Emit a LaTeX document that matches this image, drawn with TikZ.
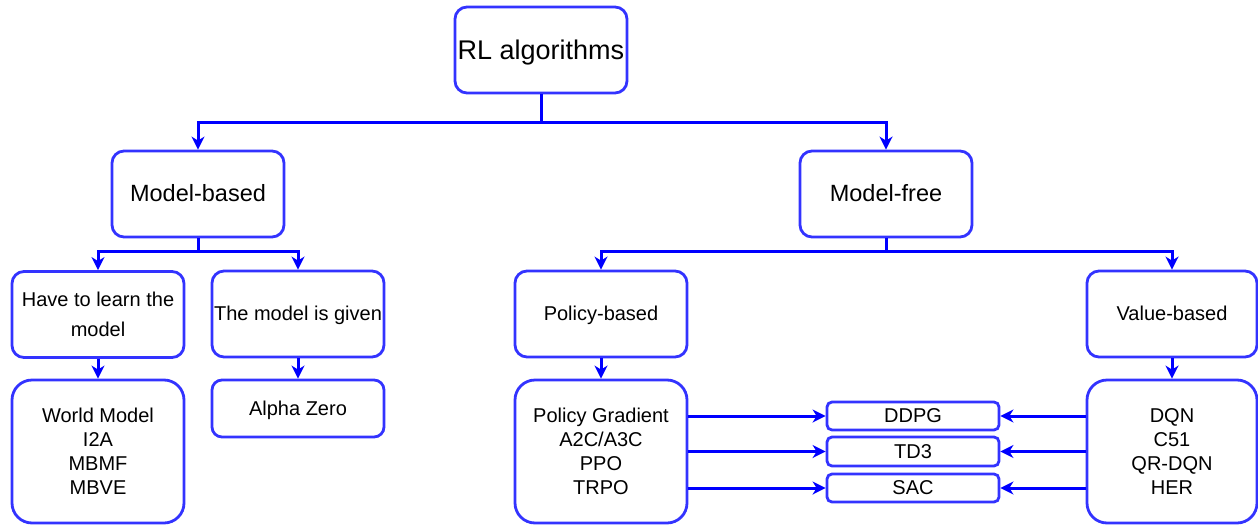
\documentclass[tikz,border=0pt]{standalone}
\usepackage{fontspec}
\setmainfont{Liberation Sans}
\usetikzlibrary{arrows.meta}
\definecolor{boxblue}{RGB}{51,51,255}
\definecolor{arrblue}{RGB}{0,0,255}
\tikzset{
  box/.style={draw=boxblue, line width=2.8pt, fill=white, rounded corners=12pt,
    minimum width=172pt, minimum height=86pt, inner sep=0pt, align=center,
    font=\fontsize{20}{24}\selectfont, text=black},
  single/.style={text height={0.84*#1pt}, text depth={0.16*#1pt}},
  single/.default=20,
  bigbox/.style={box, minimum height=143pt, rounded corners=20pt},
  smallbox/.style={box, single, minimum height=28pt, rounded corners=5pt},
  arr/.style={draw=arrblue, line width=3pt,
    -{Stealth[length=13pt, width=13pt, inset=4pt]}},
}
\begin{document}
\begin{tikzpicture}[x=1pt,y=-1pt]
\useasboundingbox (0,0) rectangle (1258,525);
\node[box, single=27, font=\fontsize{27}{32}\selectfont] (rl) at (541,50) {RL algorithms};
\node[box, single=23.5, font=\fontsize{23.5}{28}\selectfont] (mb) at (198,194) {Model-based};
\node[box, single=23.5, font=\fontsize{23.5}{28}\selectfont] (mf) at (886,194) {Model-free};
\node[box, font=\fontsize{20}{30}\selectfont] (learn) at (98,314.5) {Have to learn the\\model};
\node[box, single] (given) at (298,314) {The model is given};
\node[box, single] (pb) at (601,314) {Policy-based};
\node[box, single, minimum width=170pt] (vb) at (1172,314) {Value-based};
\node[bigbox] (wm) at (98,451.5) {World Model\\I2A\\MBMF\\MBVE};
\node[box, single, minimum height=57pt, rounded corners=10pt] (az) at (298,408.5) {Alpha Zero};
\node[bigbox] (pg) at (601,451.5) {Policy Gradient\\A2C/A3C\\PPO\\TRPO};
\node[bigbox, minimum width=170pt] (dqn) at (1172,451.5) {DQN\\C51\\QR-DQN\\HER};
\node[smallbox] (ddpg) at (913,416) {DDPG};
\node[smallbox, minimum height=29pt] (td3) at (913,451.5) {TD3};
\node[smallbox] (sac) at (913,488) {SAC};

\draw[arr] (rl.south) -- ++(0,28) -| (mb.north);
\draw[arr] (rl.south) -- ++(0,28) -| (mf.north);
\draw[arr] (mb.south) -- ++(0,13) -| (learn.north);
\draw[arr] (mb.south) -- ++(0,13) -| (given.north);
\draw[arr] (mf.south) -- ++(0,13) -| (pb.north);
\draw[arr] (mf.south) -- ++(0,13) -| (vb.north);
\draw[arr] (learn) -- (wm);
\draw[arr] (given) -- (az);
\draw[arr] (pb) -- (pg);
\draw[arr] (vb) -- (dqn);
\draw[arr] (pg.east |- ddpg.west) -- (ddpg.west);
\draw[arr] (pg.east |- td3.west) -- (td3.west);
\draw[arr] (pg.east |- sac.west) -- (sac.west);
\draw[arr] (dqn.west |- ddpg.east) -- (ddpg.east);
\draw[arr] (dqn.west |- td3.east) -- (td3.east);
\draw[arr] (dqn.west |- sac.east) -- (sac.east);
\end{tikzpicture}
\end{document}
